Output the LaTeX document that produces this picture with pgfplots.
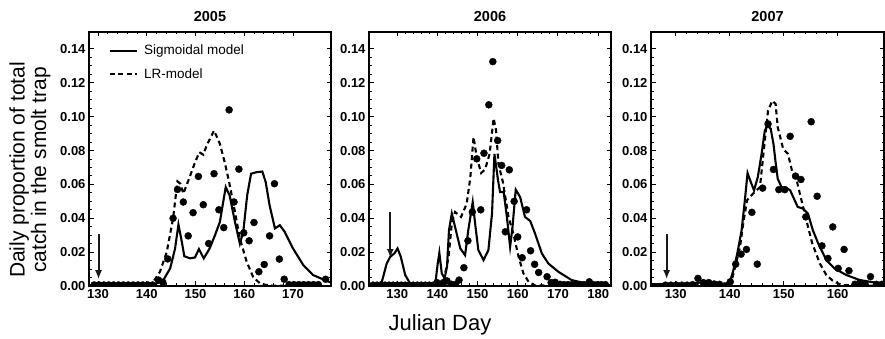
\documentclass[border=0pt]{standalone}
\usepackage{fontspec}
\setmainfont{Liberation Sans}
\usepackage{pgfplots}
\pgfplotsset{compat=1.18}
\usetikzlibrary{arrows.meta}

\tikzset{arr/.style={-{Latex[length=9pt,width=7pt]}, line width=2pt, black!90}}
\pgfplotsset{
  panel/.style={
    scale only axis, height=254pt,
    anchor=south west,
    ymin=0, ymax=0.15,
    ytick={0,0.02,0.04,0.06,0.08,0.10,0.12,0.14},
    minor y tick num=3, minor x tick num=4,
    tick align=inside,
    major tick length=4.5pt, minor tick length=2.5pt,
    axis line style={line width=1.4pt, black},
    every tick/.style={black, line width=0.9pt},
    yticklabel style={/pgf/number format/.cd, fixed, fixed zerofill, precision=2, /tikz/.cd},
    /pgf/number format/assume math mode=true,
    ticklabel style={font=\bfseries\fontsize{13}{14}\selectfont},
    title style={font=\bfseries\fontsize{14.5}{16}\selectfont, at={(0.5,1)}, anchor=base, yshift=4pt},
    clip marker paths=true,
  },
  sig/.style={black, line width=2.1pt, no marks},
  lr/.style={black, line width=2.1pt, no marks, dash pattern=on 5pt off 3.5pt},
  obs/.style={only marks, mark=*, mark size=3.5pt, black, mark options={fill=black}},
}

\begin{document}
\begin{tikzpicture}
% ---------------- 2005 ----------------
\begin{axis}[panel, width=242pt, at={(89pt,53pt)}, xmin=128.15, xmax=177.8,
  xtick={130,140,150,160,170}, title={2005},
  legend style={at={(0.08,0.955)}, anchor=north west, draw=none, fill=none,
    font=\fontsize{13.5}{15}\selectfont, row sep=9pt, inner sep=0pt,
    nodes={inner sep=1.5pt},
    /tikz/every odd column/.append style={column sep=5pt}},
  legend cell align=left,
  legend image code/.code={\draw[#1] (0pt,0pt) -- (27pt,0pt);}]
\addplot[sig] coordinates {
(128,0.0003)(140,0.0003)(141.3,0.0006)(142.4,0.002)(143.4,0.0035)(144.8,0.0104)
(145.8,0.022)(146.5,0.0363)(147.2,0.026)(147.7,0.0176)(148.9,0.0163)(149.9,0.0169)
(150.7,0.0218)(151.7,0.0163)(152.9,0.0222)(154,0.030)(155,0.0378)(156.2,0.0584)
(157,0.0535)(158.1,0.0378)(159.1,0.025)(159.8,0.032)(160.6,0.0535)(161.4,0.0663)
(162.5,0.0672)(163.7,0.0676)(164.4,0.0614)(165.2,0.0476)(166.3,0.034)(167.3,0.0359)
(168.3,0.032)(170,0.0222)(172.1,0.0124)(174.1,0.0065)(176.5,0.0035)(177.8,0.002)};
\addlegendentry{Sigmoidal model}
\addplot[lr] coordinates {
(128,0.0003)(140,0.0003)(140.7,0.0006)(141.7,0.004)(142.7,0.0084)(144.1,0.020)
(145.4,0.040)(146.3,0.0618)(146.9,0.0604)(147.5,0.0545)(148.5,0.062)(149.9,0.073)
(150.8,0.079)(151.6,0.0775)(152.3,0.083)(153.8,0.0918)(155,0.084)(156,0.073)
(156.9,0.0614)(158.1,0.0437)(159.1,0.028)(160.5,0.0143)(161.8,0.0055)(163.2,0.0016)
(165,0.0003)(170,0.0)};
\addlegendentry{LR-model}
\addplot[obs, forget plot] coordinates {
(129.2,0.0006)(130.2,0.0006)(131.2,0.0006)(132.2,0.0006)(133.2,0.0006)(134.2,0.0006)
(135.2,0.0006)(136.2,0.0006)(137.2,0.0006)(138.2,0.0006)(139.2,0.0006)(140.2,0.0006)
(141.2,0.0006)(142.4,0.0035)(143.3,0.0022)(144.3,0.016)(145.4,0.040)(146.3,0.057)
(147.5,0.0496)(148.5,0.0296)(149.5,0.0433)(150.6,0.0647)(151.6,0.048)(152.7,0.0251)
(153.8,0.0663)(154.8,0.045)(155.8,0.0345)(156.9,0.104)(157.9,0.0496)(158.9,0.069)
(159.9,0.0314)(161.0,0.0267)(162,0.0375)(163,0.0084)(164.1,0.0127)(165.2,0.0296)
(166.2,0.0604)(167.2,0.0159)(168.2,0.004)(169.2,0.0008)(170.2,0.0008)(171.2,0.0008)
(172.2,0.0008)(173.2,0.0008)(174.2,0.0008)(175.2,0.0008)(176.7,0.004)};
\draw[arr] (axis cs:130.1,0.031) -- (axis cs:130.1,0.004);
\end{axis}

% ---------------- 2006 ----------------
\begin{axis}[panel, width=242pt, at={(369pt,53pt)}, xmin=123, xmax=183.2,
  xtick={130,140,150,160,170,180}, title={2006}]
\addplot[sig] coordinates {
(123,0)(124,0.0003)(125,0.001)(126.2,0.0025)(127.4,0.0133)(128.3,0.0173)(129.3,0.0192)
(130.1,0.0222)(130.9,0.0173)(132,0.0065)(133.2,0.0016)(134.8,0.0003)(138.5,0.0003)
(139.5,0.0016)(140.1,0.0133)(140.5,0.0196)(141.1,0.0075)(141.8,0.0045)(142.4,0.0114)
(142.9,0.033)(143.6,0.0428)(144.6,0.033)(145.7,0.0222)(146.9,0.0182)(147.7,0.033)
(148.8,0.0496)(149.4,0.0369)(150.2,0.0212)(151.5,0.0153)(152.7,0.0212)(153.6,0.0428)
(154.2,0.078)(155.1,0.0624)(155.6,0.0555)(156.5,0.0555)(157.3,0.0408)(158.1,0.0231)
(158.7,0.0349)(159.5,0.0569)(160.6,0.0525)(161.8,0.0408)(163.1,0.0384)(164.3,0.031)
(166,0.0192)(167.6,0.0133)(170.1,0.0084)(173.4,0.0035)(176.8,0.0016)(181.7,0.0005)(183.2,0.0004)};
\addplot[lr] coordinates {
(123,0.0003)(140.5,0.0005)(141.5,0.0025)(142.8,0.017)(143.6,0.037)(144.4,0.0437)
(145.9,0.0408)(147.3,0.0486)(148.2,0.064)(149,0.088)(149.8,0.076)(150.9,0.0667)
(151.9,0.069)(153,0.078)(154,0.099)(154.6,0.092)(155.2,0.072)(156.3,0.0614)
(157.7,0.0408)(158.9,0.031)(160.2,0.0173)(161.4,0.0075)(162.7,0.0025)(164.3,0.0003)(183.2,0.0)};
\addplot[obs] coordinates {
(124,0.0005)(125,0.0005)(126,0.0005)(127,0.0005)(128,0.0005)(129,0.0005)(130,0.0005)
(131,0.0005)(132,0.0005)(133,0.0005)(134,0.0005)(135,0.0005)(136,0.0005)(137,0.0005)
(138,0.0005)(139,0.0005)(139.9,0.002)(140.9,0.001)(141.5,0.002)(142.4,0.003)
(143.5,0.001)(144.5,0.001)(145.4,0.0035)(146.6,0.0108)(147.6,0.0267)(148.7,0.0437)
(149.8,0.0751)(150.8,0.045)(151.6,0.0784)(152.8,0.107)(153.8,0.1325)(155,0.0859)
(156,0.0712)(156.9,0.032)(157.9,0.0686)(159.1,0.050)(160,0.029)(161.1,0.0167)
(162.2,0.045)(163.2,0.0208)(164.2,0.0128)(165.2,0.008)(167.3,0.0055)(168.3,0.002)
(169.3,0.0022)(170.5,0.001)(171.5,0.0008)(172.5,0.0008)(173.5,0.0008)(174.5,0.0008)
(175.5,0.0008)(176.5,0.0008)(177.8,0.0025)(178.8,0.0008)(179.8,0.0008)(180.8,0.0008)(181.8,0.0008)};
\draw[arr] (axis cs:128.3,0.0437) -- (axis cs:128.3,0.0165);
\end{axis}

% ---------------- 2007 ----------------
\begin{axis}[panel, width=233pt, at={(651pt,53pt)}, xmin=125.4, xmax=168.6,
  xtick={130,140,150,160}, title={2007}]
\addplot[sig] coordinates {
(125.4,0.001)(130,0.0012)(133,0.0015)(134.5,0.002)(136,0.0015)(138,0.001)(139.4,0.0015)
(140,0.0025)(140.6,0.0084)(141.4,0.0192)(142.2,0.033)(142.8,0.0506)(143.3,0.0667)
(143.9,0.0614)(144.5,0.0565)(145.2,0.0643)(145.9,0.078)(146.5,0.0918)(147,0.0947)
(147.6,0.0928)(148.1,0.084)(148.5,0.0731)(148.9,0.0633)(149.6,0.0584)(150.5,0.058)
(151.2,0.0565)(151.9,0.0516)(152.6,0.0467)(153.6,0.0457)(154.5,0.0428)(155.4,0.033)
(156.4,0.0251)(157.9,0.0153)(159.4,0.0104)(161.6,0.0065)(164.1,0.0035)(167.2,0.0019)(168.6,0.0015)};
\addplot[lr] coordinates {
(125.4,0.0005)(139.5,0.0008)(140.3,0.0025)(141.1,0.0124)(141.9,0.023)(142.5,0.0369)
(143.2,0.0506)(144.3,0.0545)(145.6,0.0584)(146.5,0.0859)(147.1,0.1035)(147.9,0.1094)
(148.5,0.1075)(148.9,0.0937)(149.9,0.081)(150.8,0.078)(151.6,0.0672)(152.4,0.0624)
(153.3,0.0506)(154.2,0.0388)(155.3,0.0251)(156.7,0.0133)(157.9,0.0065)(159.1,0.0031)
(160.7,0.0006)(168.6,0.0)};
\addplot[obs] coordinates {
(128.1,0.0005)(129.1,0.0005)(130.1,0.0005)(131.1,0.0005)(132.1,0.0005)(133.1,0.0008)
(134.1,0.0045)(135.1,0.002)(136.1,0.002)(137.1,0.0012)(138.1,0.001)(139.1,0.0)
(140.1,0.0025)(141.1,0.0129)(142.1,0.0188)(143.1,0.0216)(144.1,0.0435)(145.1,0.0129)
(146.1,0.0578)(147.1,0.0957)(148.1,0.0688)(149.1,0.0569)(150.2,0.0569)(151.2,0.0884)
(152.2,0.0649)(153.2,0.0629)(154.1,0.0408)(155.1,0.097)(156.2,0.053)(157.1,0.0237)
(158.2,0.0163)(159.1,0.0349)(160.1,0.0104)(161.2,0.0216)(162.1,0.009)(163.2,0.001)
(164.1,0.002)(165.1,0.001)(166.1,0.0055)(167.2,0.001)(168.2,0.001)};
\draw[arr] (axis cs:128.3,0.031) -- (axis cs:128.3,0.004);
\end{axis}

\node[rotate=90, align=center, font=\fontsize{21}{21.5}\selectfont] at (30pt,169pt)
  {Daily proportion of total\\catch in the smolt trap};
\node[anchor=base, font=\fontsize{22}{24}\selectfont] at (440pt,8pt) {Julian Day};

\pgfresetboundingbox
\useasboundingbox (0,0) rectangle (885pt,339pt);
\end{tikzpicture}
\end{document}
